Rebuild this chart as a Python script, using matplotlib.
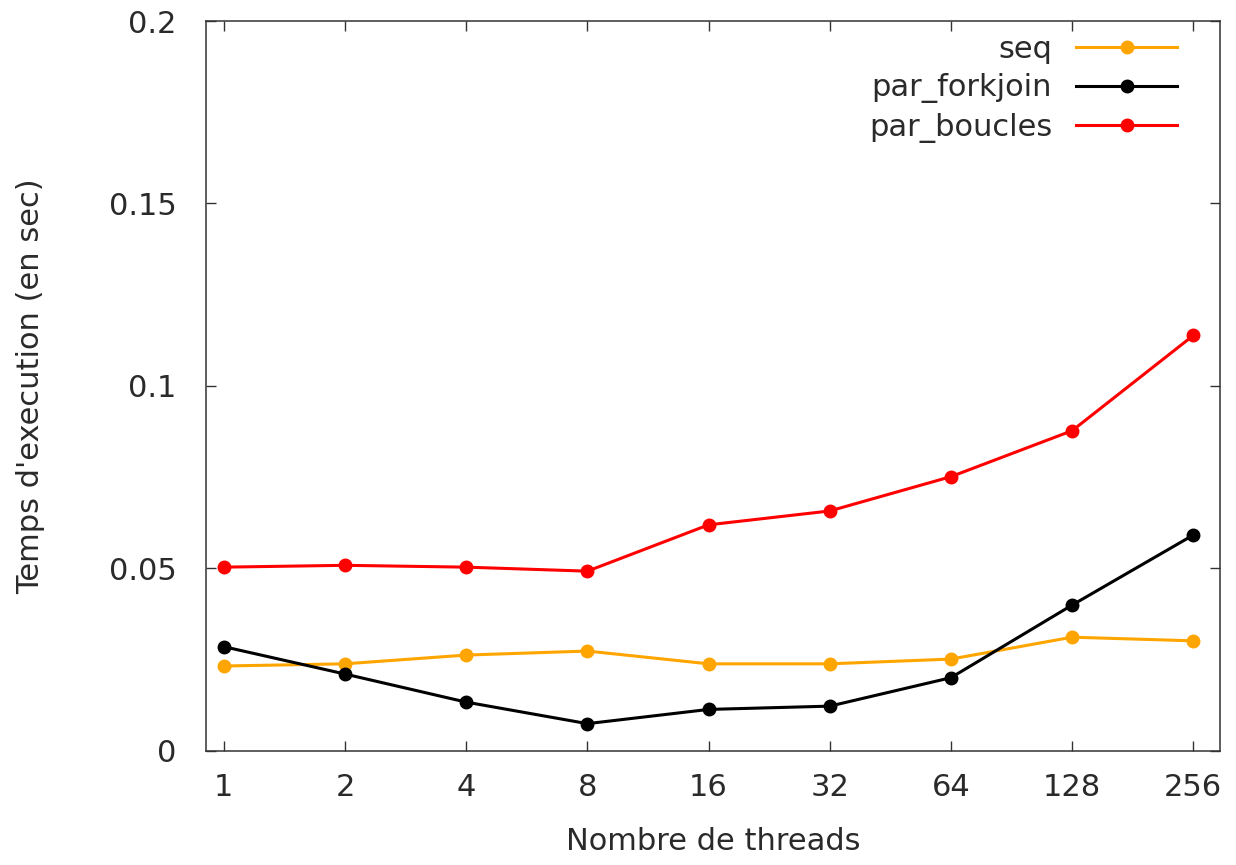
import matplotlib
matplotlib.use('Agg')
import matplotlib.pyplot as plt
import numpy as np

# threads (log2 axis shown as evenly spaced categories)
threads = ["1", "2", "4", "8", "16", "32", "64", "128", "256"]

seq = [0.0232, 0.0238, 0.0262, 0.0273, 0.0238, 0.0238, 0.0251, 0.0311, 0.0301]
par_forkjoin = [0.0285, 0.0210, 0.0133, 0.0074, 0.0113, 0.0122, 0.0200, 0.0399, 0.0591]
par_boucles = [0.0503, 0.0508, 0.0503, 0.0492, 0.0619, 0.0657, 0.0751, 0.0877, 0.1138]

series = [
    ("seq", seq, "#FFA500"),
    ("par_forkjoin", par_forkjoin, "#000000"),
    ("par_boucles", par_boucles, "#FF0000"),
]

TEXT = "#2a2a2a"
FS = 22

fig = plt.figure(figsize=(12.36, 8.65), dpi=100)
ax = fig.add_axes([0.1664, 0.1322, 0.8206, 0.8435])

x = np.arange(len(threads))
for name, vals, color in series:
    ax.plot(x, vals, color=color, linewidth=2.2, marker="o", markersize=9,
            label=name)

ax.set_xlim(-0.15, 8.22)
ax.set_ylim(0, 0.2)
ax.set_xticks(x)
ax.set_xticklabels(threads)
ax.set_yticks([0, 0.05, 0.1, 0.15, 0.2])
ax.set_yticklabels(["0", "0.05", "0.1", "0.15", "0.2"])

ax.tick_params(direction="in", length=7, width=1, top=True, right=True,
               labelsize=FS, labelcolor=TEXT, color="#333333")
ax.tick_params(axis="y", pad=21)
ax.tick_params(axis="x", pad=16)
for sp in ax.spines.values():
    sp.set_linewidth(1.1)
    sp.set_color("#333333")

ax.set_xlabel("Nombre de threads", fontsize=FS, color=TEXT)
ax.set_ylabel("Temps d'execution (en sec)", fontsize=FS, color=TEXT)
ax.xaxis.set_label_coords(0.5, -0.104)
ax.yaxis.set_label_coords(-0.158, 0.5)

ax.legend(loc="upper right", bbox_to_anchor=(0.958, 0.981), frameon=False,
          markerfirst=False, fontsize=FS, labelcolor=TEXT, handlelength=3.3,
          handletextpad=0.8, labelspacing=0.31, borderaxespad=0, borderpad=0)

fig.savefig("out.png", dpi=100)
